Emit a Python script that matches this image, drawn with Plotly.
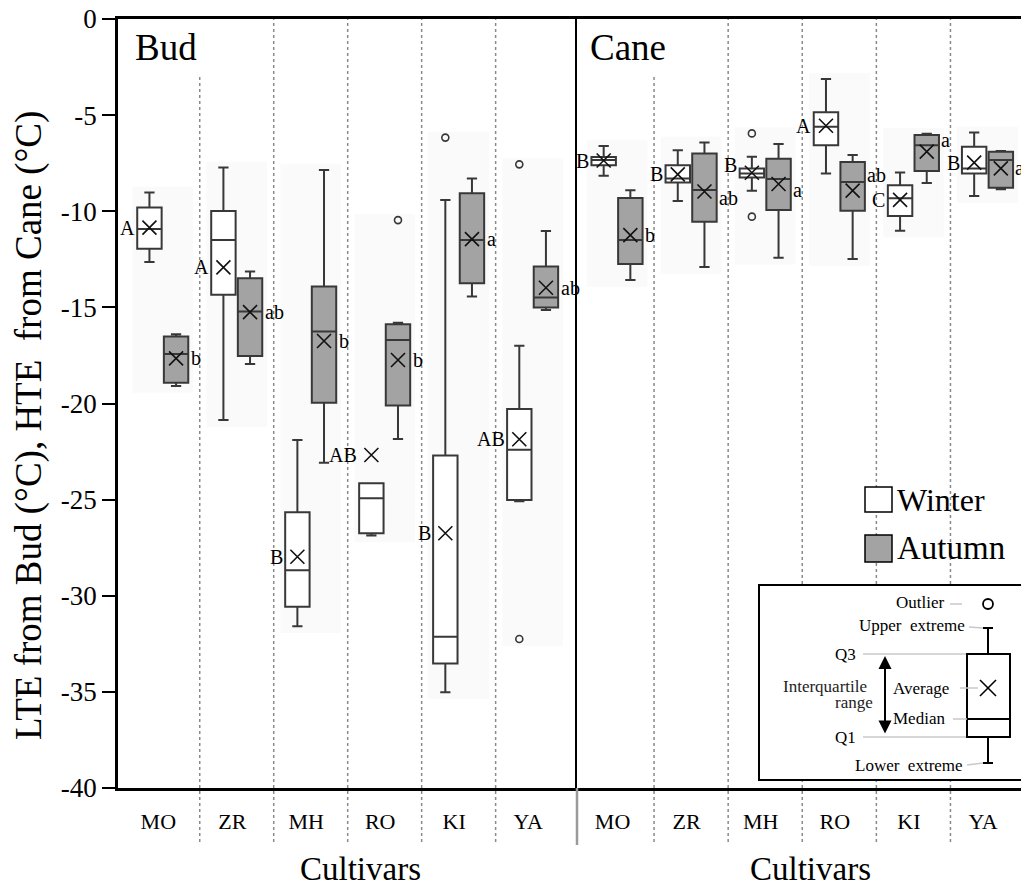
import plotly.graph_objects as go

cultivars = ["MO", "ZR", "MH", "RO", "KI", "YA"]

# ---------------- Bud (LTE) ----------------
bud_w_low = [-12.64, -20.86, -31.59, -26.87, -35.02, -25.09]
bud_w_q1 = [-11.95, -14.34, -30.57, -26.75, -33.52, -25.02]
bud_w_med = [-10.92, -11.50, -28.68, -24.93, -32.13, -22.40]
bud_w_q3 = [-9.81, -9.99, -25.66, -24.15, -22.70, -20.29]
bud_w_up = [-9.03, -7.72, -21.90, -24.15, -9.41, -16.99]
bud_w_mean = [-10.85, -12.92, -27.97, -22.68, -26.75, -21.86]
bud_w_out = [[], [], [], [], [-6.17], [-7.56, -32.25]]
bud_w_letters = ["A", "A", "B", "AB", "B", "AB"]

bud_a_low = [-19.09, -17.95, -23.08, -21.85, -14.44, -15.14]
bud_a_q1 = [-18.92, -17.53, -19.96, -20.11, -13.75, -15.00]
bud_a_med = [-17.43, -15.22, -16.26, -16.70, -11.50, -14.48]
bud_a_q3 = [-16.52, -13.49, -13.92, -15.88, -9.07, -12.88]
bud_a_up = [-16.40, -13.13, -7.85, -15.80, -8.29, -11.03]
bud_a_mean = [-17.65, -15.25, -16.75, -17.74, -11.45, -13.98]
bud_a_out = [[], [], [], [-10.46], [], []]
bud_a_letters = ["b", "ab", "b", "b", "a", "ab"]

# ---------------- Cane (HTE) ----------------
cane_w_low = [-8.15, -9.47, -8.93, -8.03, -11.01, -9.21]
cane_w_q1 = [-7.61, -8.51, -8.25, -6.57, -10.25, -8.03]
cane_w_med = [-7.33, -8.29, -8.03, -5.60, -9.33, -7.77]
cane_w_q3 = [-7.18, -7.61, -7.77, -4.85, -8.65, -6.64]
cane_w_up = [-6.61, -6.83, -7.16, -3.12, -7.98, -5.90]
cane_w_mean = [-7.36, -8.08, -8.00, -5.55, -9.41, -7.47]
cane_w_out = [[], [], [-5.95, -10.28], [], [], []]
cane_w_letters = ["B", "B", "B", "A", "C", "B"]

cane_a_low = [-13.58, -12.90, -12.42, -12.48, -8.53, -8.86]
cane_a_q1 = [-12.74, -10.54, -9.93, -9.97, -7.91, -8.78]
cane_a_med = [-11.50, -8.89, -8.32, -8.48, -6.57, -7.33]
cane_a_q3 = [-9.31, -6.99, -7.27, -7.44, -6.03, -6.90]
cane_a_up = [-8.91, -6.43, -6.50, -7.07, -5.97, -6.87]
cane_a_mean = [-11.24, -8.97, -8.58, -8.93, -6.90, -7.77]
cane_a_out = [[], [], [], [], [], []]
cane_a_letters = ["b", "ab", "a", "ab", "a", "a"]

y_ticks = [0, -5, -10, -15, -20, -25, -30, -35, -40]
y_ticktext = ["0", "-5", "-10", "-15", "-20", "-25", "-30", "-35", "-40"]

FONT = "Liberation Serif"
LINE = "#383838"
GRAY = "#a3a3a3"
OFF = 0.18
BW = 0.33

# page body has an 8px margin -> figure sized/offset so the plot lands at screen 118..1029, 19..788
W, H = 1021, 880
L, R, T, B = 110, 0, 11, 100
PW = W - L - R
PH = H - T - B
SPLIT = 577  # screen x of the panel divider

# pixel nudges for a few significance letters (styling only)
wshift = {"x": [0, 0, 0, 0, 0, 0], "x2": [0, 0, 8, 0, 0, 0]}
ashift = {"x": [0, 0, 0, 0, 0, 0], "x2": [0, -7, -6, 16, 12, 0]}


def px(x):  # screen x -> paper
    return (x - 118) / PW


def py(y):  # screen y -> paper
    return (788 - y) / PH


fig = go.Figure()
idx = list(range(len(cultivars)))
shapes = []
annotations = []

panels = [
    ("x", "y", bud_w_low, bud_w_q1, bud_w_med, bud_w_q3, bud_w_up, bud_w_mean, bud_w_out, bud_w_letters,
     bud_a_low, bud_a_q1, bud_a_med, bud_a_q3, bud_a_up, bud_a_mean, bud_a_out, bud_a_letters),
    ("x2", "y2", cane_w_low, cane_w_q1, cane_w_med, cane_w_q3, cane_w_up, cane_w_mean, cane_w_out, cane_w_letters,
     cane_a_low, cane_a_q1, cane_a_med, cane_a_q3, cane_a_up, cane_a_mean, cane_a_out, cane_a_letters),
]

for (xa, ya, wl, wq1, wm, wq3, wu, wmean, wout, wlet,
     al, aq1, am, aq3, au, amean, aout, alet) in panels:
    for i in idx:
        vals = [wl[i], wu[i], al[i], au[i], wmean[i], amean[i]] + wout[i] + aout[i]
        shapes.append(dict(type="rect", xref=xa, yref="y", x0=i - 0.41, x1=i + 0.41,
                           y0=min(vals) - 0.35, y1=max(vals) + 0.3,
                           fillcolor="#fafafa", line=dict(width=0), layer="below"))
    for season, lo, q1, med, q3, up, mean, out, fill, sgn in [
        ("Winter", wl, wq1, wm, wq3, wu, wmean, wout, "white", -1),
        ("Autumn", al, aq1, am, aq3, au, amean, aout, GRAY, 1),
    ]:
        pos = [i + sgn * OFF for i in idx]
        fig.add_trace(go.Box(
            x=pos, q1=q1, median=med, q3=q3, lowerfence=lo, upperfence=up,
            width=BW, whiskerwidth=0.42, fillcolor=fill,
            line=dict(color=LINE, width=2), boxpoints=False,
            xaxis=xa, yaxis=ya, name=season, showlegend=False, hoverinfo="skip"))
        fig.add_trace(go.Scatter(
            x=pos, y=mean, mode="markers", xaxis=xa, yaxis=ya, showlegend=False,
            marker=dict(symbol="x-thin", size=14, line=dict(width=1.6, color="#111111"))))
        ox, oy = [], []
        for i in idx:
            for v in out[i]:
                ox.append(pos[i])
                oy.append(v)
        if ox:
            fig.add_trace(go.Scatter(
                x=ox, y=oy, mode="markers", xaxis=xa, yaxis=ya, showlegend=False,
                marker=dict(symbol="circle-open", size=7, color=LINE, line=dict(width=1.6))))
    for i in idx:
        annotations.append(dict(xref=xa, yref="y", x=i - OFF - BW / 2 - 0.005, y=wmean[i],
                                yshift=wshift[xa][i],
                                text=wlet[i], showarrow=False, xanchor="right", yanchor="middle",
                                font=dict(family=FONT, size=20, color="black")))
        annotations.append(dict(xref=xa, yref="y", x=i + OFF + BW / 2 + 0.005, y=amean[i],
                                yshift=ashift[xa][i],
                                text=alet[i], showarrow=False, xanchor="left", yanchor="middle",
                                font=dict(family=FONT, size=20, color="black")))
    for k in range(1, len(cultivars)):
        top = py(74) if k == 1 else 1.0
        shapes.append(dict(type="line", xref=xa, yref="paper", x0=k - 0.5, x1=k - 0.5,
                           y0=py(842), y1=top, line=dict(color="#8a8a8a", width=1.5, dash="dot")))

shapes.append(dict(type="line", xref="paper", yref="paper", x0=px(SPLIT), x1=px(SPLIT),
                   y0=py(845), y1=0, line=dict(color="#9a9a9a", width=2.5)))

# panel titles
annotations.append(dict(xref="paper", yref="paper", x=px(133), y=py(47), text="Bud", showarrow=False,
                        xanchor="left", yanchor="middle", font=dict(family=FONT, size=37, color="black")))
annotations.append(dict(xref="paper", yref="paper", x=px(588), y=py(47), text="Cane", showarrow=False,
                        xanchor="left", yanchor="middle", font=dict(family=FONT, size=37, color="black")))

# axis titles
annotations.append(dict(xref="paper", yref="paper", x=px(29), y=py(426), textangle=-90,
                        text="LTE from Bud (°C), HTE\u00a0 from Cane (°C)", showarrow=False,
                        xanchor="center", yanchor="middle", font=dict(family=FONT, size=37, color="black")))
for cx in (360, 810):
    annotations.append(dict(xref="paper", yref="paper", x=px(cx), y=py(869), text="Cultivars",
                            showarrow=False, xanchor="center", yanchor="middle",
                            font=dict(family=FONT, size=33, color="black")))

# legend
shapes.append(dict(type="rect", xref="paper", yref="paper", x0=px(865), x1=px(892), y0=py(512), y1=py(487),
                   fillcolor="white", line=dict(color="black", width=1.5)))
shapes.append(dict(type="rect", xref="paper", yref="paper", x0=px(865), x1=px(892), y0=py(562), y1=py(535),
                   fillcolor=GRAY, line=dict(color="black", width=1.5)))
annotations.append(dict(xref="paper", yref="paper", x=px(895), y=py(500), text="Winter", showarrow=False,
                        xanchor="left", yanchor="middle", font=dict(family=FONT, size=32, color="black")))
annotations.append(dict(xref="paper", yref="paper", x=px(895), y=py(548), text="Autumn", showarrow=False,
                        xanchor="left", yanchor="middle", font=dict(family=FONT, size=33, color="black")))


def pline(x0, y0, x1, y1, color="black", width=2):
    shapes.append(dict(type="line", xref="paper", yref="paper", x0=px(x0), x1=px(x1), y0=py(y0), y1=py(y1),
                       line=dict(color=color, width=width)))


def ptext(x, y, text, anchor, size=17, color="black"):
    annotations.append(dict(xref="paper", yref="paper", x=px(x), y=py(y), text=text, showarrow=False,
                            xanchor=anchor, yanchor="middle", font=dict(family=FONT, size=size, color=color)))


# explanatory inset
shapes.append(dict(type="rect", xref="paper", yref="paper", x0=px(759), x1=px(1027), y0=py(780), y1=py(585),
                   fillcolor="white", line=dict(color="black", width=2)))
LG = "#c8c8c8"
ptext(946, 602, "Outlier", "right")
pline(950, 604, 962, 604, LG, 1.5)
shapes.append(dict(type="circle", xref="paper", yref="paper", x0=px(983), x1=px(993), y0=py(609), y1=py(599),
                   line=dict(color="black", width=1.8)))
ptext(967, 625, "Upper  extreme", "right")
pline(969, 627, 983, 628, LG, 1.5)
pline(983, 628, 993, 628)
pline(988, 628, 988, 654)
ptext(858, 654, "Q3", "right")
pline(863, 654, 967, 654, LG, 1.5)
ptext(858, 737, "Q1", "right")
pline(863, 737, 967, 737, LG, 1.5)
shapes.append(dict(type="rect", xref="paper", yref="paper", x0=px(967), x1=px(1010), y0=py(737), y1=py(654),
                   fillcolor="white", line=dict(color="black", width=2)))
pline(967, 719, 1010, 719)
pline(980, 680, 996, 696, "black", 1.6)
pline(980, 696, 996, 680, "black", 1.6)
pline(988, 737, 988, 763)
pline(983, 763, 993, 763)
annotations.append(dict(xref="paper", yref="paper", x=px(885), y=py(656), ax=0, ay=79, text="",
                        showarrow=True, arrowhead=2, arrowside="end+start", arrowsize=1.3,
                        arrowwidth=2, arrowcolor="black"))
ptext(869, 686, "Interquartile", "right", 17, "#222222")
ptext(875, 702, "range", "right", 17, "#222222")
ptext(891, 688, "Average", "left")
pline(960, 688, 978, 688, LG, 1.5)
ptext(891, 718, "Median", "left")
pline(953, 719, 967, 719, LG, 1.5)
ptext(965, 765, "Lower  extreme", "right")
pline(967, 765, 983, 763, LG, 1.5)

tickvals = [i - 0.06 for i in idx]
xcommon = dict(tickmode="array", tickvals=tickvals, ticktext=cultivars, ticks="",
               ticklabelstandoff=12, tickfont=dict(family=FONT, size=22, color="black"),
               showline=True, linecolor="black", linewidth=2.5, mirror=True,
               showgrid=False, zeroline=False, automargin=False)

fig.update_layout(
    width=W, height=H,
    margin=dict(l=L, r=R, t=T, b=B, autoexpand=False),
    paper_bgcolor="white", plot_bgcolor="white",
    showlegend=False,
    xaxis=dict(domain=[0, px(SPLIT)], range=[-0.605, 5.6], anchor="y", **xcommon),
    xaxis2=dict(domain=[px(SPLIT), 1], range=[-0.54, 5.56], anchor="y2", **xcommon),
    yaxis=dict(range=[-40, 0], anchor="x", tickmode="array",
               tickvals=y_ticks, ticktext=y_ticktext, ticklabeloverflow="allow",
               ticks="outside", ticklen=13, tickwidth=2, tickcolor="black",
               ticklabelstandoff=0,
               tickfont=dict(family=FONT, size=27, color="black"),
               showline=True, linecolor="black", linewidth=2.5, showgrid=False, zeroline=False,
               automargin=False),
    yaxis2=dict(range=[-40, 0], anchor="x2", matches="y", showticklabels=False, ticks="",
                showline=True, linecolor="black", linewidth=2, showgrid=False, zeroline=False,
                automargin=False),
    shapes=shapes,
    annotations=annotations,
)

fig.write_html("out.html")
